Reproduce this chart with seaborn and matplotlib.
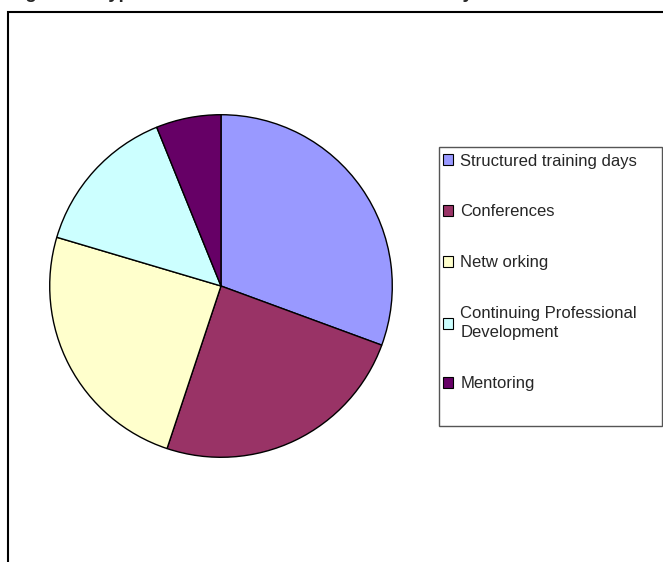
import matplotlib
matplotlib.use("Agg")
import matplotlib.pyplot as plt
from matplotlib.patches import Rectangle, Patch
import seaborn as sns

sns.set_style("white")
plt.rcParams["font.family"] = ["Liberation Sans", "DejaVu Sans"]

# data
activities = ["Structured training days", "Conferences", "Netw orking",
              "Continuing Professional\nDevelopment", "Mentoring"]
counts = [15, 12, 12, 7, 3]
colours = ["#9999FF", "#993366", "#FFFFCC", "#CCFFFF", "#660066"]
title = "Training Event Types of CPD Activities Attended Often by Staff"

W, H = 663, 562
fig = plt.figure(figsize=(W / 100, H / 100), dpi=100)

# chart area border (cropped on the right and bottom)
fig.patches.append(Rectangle((7.5 / W, -0.05), 1.2, 1.05 - 11.5 / H,
                             transform=fig.transFigure, fill=False,
                             edgecolor="black", linewidth=1.5))

# clipped title, only descenders visible
fig.text(-36 / W, 1 + 1.5 / H, title, fontsize=13.5, fontweight="bold",
         ha="left", va="baseline")

cx, cy, r = 221, 286, 173
ax = fig.add_axes([(cx - r) / W, (H - cy - r) / H, 2 * r / W, 2 * r / H])
ax.pie(counts, colors=colours, startangle=90, counterclock=False, radius=1,
       wedgeprops=dict(edgecolor="black", linewidth=1))
ax.set_xlim(-1.01, 1.01)
ax.set_ylim(-1.01, 1.01)
ax.set_aspect("auto")
ax.axis("off")

# legend box
fig.patches.append(Rectangle((438.5 / W, 1 - 425.5 / H), 223 / W, 279 / H,
                             transform=fig.transFigure, fill=False,
                             edgecolor="#555555", linewidth=1))

handles = [Patch(facecolor=c, edgecolor="black", linewidth=0.8) for c in colours]
leg = fig.legend(handles, activities, loc="upper left",
                 bbox_to_anchor=(441 / W, 1 - 152 / H),
                 fontsize=12, frameon=False,
                 handlelength=0.6, handleheight=0.6, handletextpad=0.45,
                 labelspacing=2.15, borderpad=0.1, borderaxespad=0)
for t in leg.get_texts():
    t.set_linespacing(1.35)

fig.savefig("out.png", dpi=100)
